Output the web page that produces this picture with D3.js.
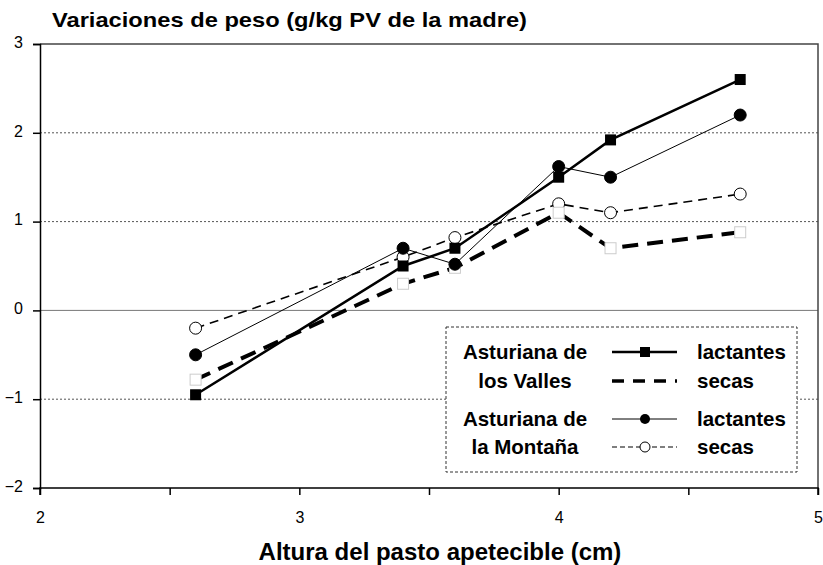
<!DOCTYPE html>
<html lang="es">
<head>
<script src="https://d3js.org/d3.v7.min.js"></script>
<style>
  body { margin: 0; background: #fff; }
  svg text { font-family: "Liberation Sans", Arial, sans-serif; fill: #000; }
</style>
</head>
<body>
<svg width="823" height="565"></svg>
<script>
var altura = [2.6, 3.4, 3.6, 4.0, 4.2, 4.7];
var vallesLactantes = [-0.95, 0.5, 0.7, 1.5, 1.92, 2.6];
var vallesSecas = [-0.78, 0.3, 0.48, 1.1, 0.7, 0.88];
var montanaLactantes = [-0.5, 0.7, 0.52, 1.62, 1.5, 2.2];
var montanaSecas = [-0.2, 0.6, 0.82, 1.2, 1.1, 1.31];
var xTicks = [2, 3, 4, 5];
var yTicks = [-2, -1, 0, 1, 2, 3];

var svg = d3.select("svg");
var x = d3.scaleLinear().domain([2, 5]).range([40, 818]);
var y = d3.scaleLinear().domain([-2, 3]).range([488, 44]);

// grid
svg.append("g").selectAll("line")
    .data([-1, 1, 2])
    .enter().append("line")
    .attr("x1", x(2)).attr("x2", x(5))
    .attr("y1", d => y(d)).attr("y2", d => y(d))
    .attr("stroke", "#555").attr("stroke-width", 1)
    .attr("stroke-dasharray", "2,2");
svg.append("line")
    .attr("x1", x(2)).attr("x2", x(5))
    .attr("y1", y(0)).attr("y2", y(0))
    .attr("stroke", "#777").attr("stroke-width", 1);
// frame top/right
svg.append("path")
    .attr("d", `M${x(2)},${y(3)}H${x(5)}V${y(-2)}`)
    .attr("fill", "none").attr("stroke", "#444").attr("stroke-width", 1.5);

// axes
var xAxis = d3.axisBottom(x).tickValues(d3.range(2, 5.01, 0.5)).tickSize(7)
    .tickFormat(d => xTicks.indexOf(d) >= 0 ? d : "");
var gx = svg.append("g").attr("transform", `translate(0,${y(-2)})`).call(xAxis);
gx.select(".domain").attr("stroke", "#000").attr("stroke-width", 1.5).attr("d", `M${x(2)},7V0H${x(5)}V7`);
gx.selectAll(".tick line").attr("stroke-width", 1.5);
gx.selectAll("text").attr("font-size", 16).attr("y", 24).attr("dy", "0.71em")
    .attr("font-family", "Liberation Sans, Arial, sans-serif");

var yAxis = d3.axisLeft(y).tickValues(yTicks).tickSize(7).tickFormat(d3.format("d"));
var gy = svg.append("g").attr("transform", `translate(${x(2)},0)`).call(yAxis);
gy.select(".domain").attr("stroke", "#000").attr("stroke-width", 1.5);
gy.selectAll(".tick line").attr("stroke-width", 1.5);
gy.selectAll("text").attr("font-size", 16).attr("x", -17).attr("dy", "0.2em")
    .attr("font-family", "Liberation Sans, Arial, sans-serif");

function pts(vals) { return altura.map((a, i) => [a, vals[i]]); }
var line = d3.line().x(d => x(d[0])).y(d => y(d[1]));

var series = [
  { vals: montanaSecas, width: 1.6, dash: "9,6", marker: "circle", fill: "#fff" },
  { vals: vallesSecas, width: 4, dash: "16,9", marker: "square", fill: "#fff", stroke: "#ccc" },
  { vals: montanaLactantes, width: 1, dash: null, marker: "circle", fill: "#000" },
  { vals: vallesLactantes, width: 2.5, dash: null, marker: "square", fill: "#000" }
];

var plot = svg.append("g");
series.forEach(s => {
  plot.append("path")
      .attr("d", line(pts(s.vals)))
      .attr("fill", "none").attr("stroke", "#000")
      .attr("stroke-width", s.width)
      .attr("stroke-dasharray", s.dash);
});
series.forEach(s => {
  var g = plot.append("g");
  if (s.marker === "circle") {
    g.selectAll("circle").data(pts(s.vals)).enter().append("circle")
        .attr("cx", d => x(d[0])).attr("cy", d => y(d[1])).attr("r", 6)
        .attr("fill", s.fill).attr("stroke", "#000").attr("stroke-width", 1);
  } else {
    g.selectAll("rect").data(pts(s.vals)).enter().append("rect")
        .attr("x", d => x(d[0]) - 5.5).attr("y", d => y(d[1]) - 5.5)
        .attr("width", 11).attr("height", 11)
        .attr("fill", s.fill).attr("stroke", s.stroke || "none").attr("stroke-width", 1);
  }
});

// legend
var lg = svg.append("g");
lg.append("rect").attr("x", 446).attr("y", 327).attr("width", 351).attr("height", 145)
    .attr("fill", "#fff").attr("stroke", "#333").attr("stroke-width", 1)
    .attr("stroke-dasharray", "3,2");
var groupLabels = [["Asturiana de", "los Valles"], ["Asturiana de", "la Montaña"]];
var itemLabels = ["lactantes", "secas", "lactantes", "secas"];
var rowsY = [352, 381, 419, 447];
groupLabels.forEach((g, i) => {
  g.forEach((t, j) => {
    lg.append("text").attr("x", 525).attr("y", rowsY[i * 2 + j] + 7)
        .attr("text-anchor", "middle").attr("font-size", 20.5).attr("font-weight", "bold").text(t);
  });
});
var legendSeries = [series[3], series[1], series[2], series[0]];
legendSeries.forEach((s, i) => {
  var yy = rowsY[i];
  lg.append("line").attr("x1", 612).attr("x2", 677).attr("y1", yy).attr("y2", yy)
      .attr("stroke", "#000").attr("stroke-width", i === 1 ? 3.5 : (i === 0 ? 2.5 : (i === 3 ? 1.2 : 1)))
      .attr("stroke-dasharray", i === 1 ? "12,9" : (i === 3 ? "5,3" : null));
  if (i === 0) lg.append("rect").attr("x", 640).attr("y", yy - 5).attr("width", 10).attr("height", 10).attr("fill", "#000");
  if (i === 2) lg.append("circle").attr("cx", 645).attr("cy", yy).attr("r", 5).attr("fill", "#000");
  if (i === 3) lg.append("circle").attr("cx", 645).attr("cy", yy).attr("r", 5).attr("fill", "#fff").attr("stroke", "#000");
  lg.append("text").attr("x", 697).attr("y", yy + 7)
      .attr("font-size", 20.5).attr("font-weight", "bold").text(itemLabels[i]);
});

// titles
svg.append("text").attr("x", 52).attr("y", 27).attr("font-size", 21).attr("font-weight", "bold")
    .attr("textLength", 475).attr("lengthAdjust", "spacingAndGlyphs")
    .text("Variaciones de peso (g/kg PV de la madre)");
svg.append("text").attr("x", 440).attr("y", 560).attr("text-anchor", "middle")
    .attr("font-size", 24).attr("font-weight", "bold").text("Altura del pasto apetecible (cm)");
</script>
</body>
</html>
